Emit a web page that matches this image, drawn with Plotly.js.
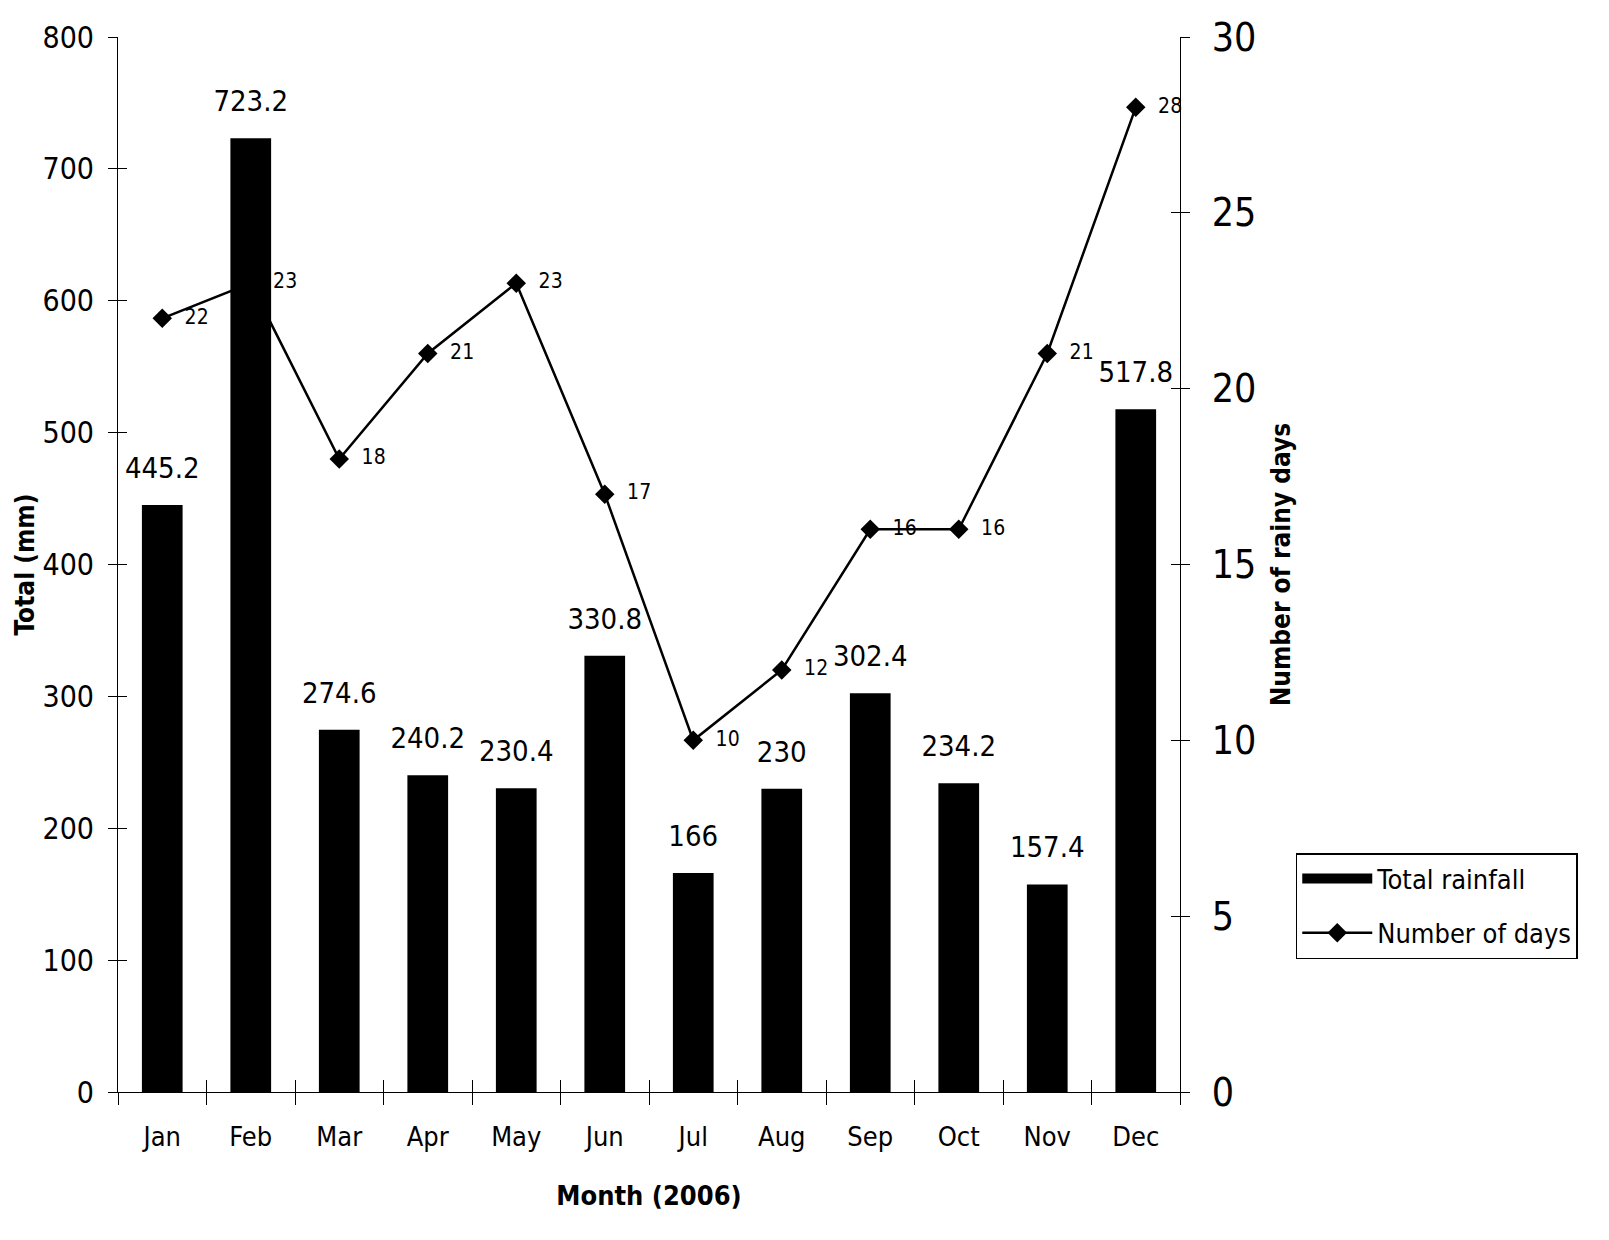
<!DOCTYPE html>
<html>
<head>
<meta charset="utf-8">
<script src="https://cdn.plot.ly/plotly-3.0.1.min.js"></script>
<style>
  html, body { margin: 0; padding: 0; background: #fff; }
  #chart { width: 1609px; height: 1240px; }
</style>
</head>
<body>
<div id="chart"></div>
<script>
// Monthly rainfall and rainy days, 2006
var months = ['Jan', 'Feb', 'Mar', 'Apr', 'May', 'Jun', 'Jul', 'Aug', 'Sep', 'Oct', 'Nov', 'Dec'];
var rainfall = [445.2, 723.2, 274.6, 240.2, 230.4, 330.8, 166, 230, 302.4, 234.2, 157.4, 517.8];
var rainyDays = [22, 23, 18, 21, 23, 17, 10, 12, 16, 16, 21, 28];

var FONT = '"Liberation Sans Narrow", "DejaVu Sans Condensed", "Roboto Condensed", "Liberation Sans", Arial, sans-serif';

// category boundaries for the crossing ticks
var idx = months.map(function(m, i) { return i; });
var bounds = idx.map(function(i) { return i - 0.5; }).concat([months.length - 0.5]);

var bars = {
  type: 'bar',
  x: months,
  y: rainfall,
  name: 'Total rainfall',
  marker: { color: '#000' },
  showlegend: false,
  hoverinfo: 'x+y'
};

// legend entry drawn as a wide black block, like the original
var barKey = {
  type: 'scatter',
  mode: 'lines',
  x: months,
  y: months.map(function() { return null; }),
  name: 'Total rainfall',
  legendgroup: 'a',
  line: { color: '#000', width: 19 },
  hoverinfo: 'skip'
};

var barLabels = {
  type: 'scatter',
  mode: 'markers+text',
  x: months,
  y: rainfall,
  text: rainfall.map(String),
  textposition: 'top center',
  textfont: { family: FONT, size: 29, color: '#000' },
  marker: { size: 30, opacity: 0 },
  showlegend: false,
  hoverinfo: 'skip',
  cliponaxis: false
};

var days = {
  type: 'scatter',
  mode: 'lines+markers+text',
  x: months,
  y: rainyDays,
  yaxis: 'y2',
  name: 'Number of days',
  legendgroup: 'b',
  line: { color: '#000', width: 2.5 },
  marker: { symbol: 'diamond', size: 15, color: '#000' },
  text: rainyDays.map(function(d) { return '  ' + d; }),
  textposition: 'middle right',
  textfont: { family: FONT, size: 21, color: '#000' },
  cliponaxis: false
};

// invisible helpers so the inner-tick overlay axes get drawn
var tickHelperL = {
  type: 'scatter', mode: 'markers', x: idx, y: rainfall,
  xaxis: 'x2', yaxis: 'y3',
  marker: { opacity: 0 }, showlegend: false, hoverinfo: 'skip'
};
var tickHelperR = {
  type: 'scatter', mode: 'markers', x: idx, y: rainyDays,
  xaxis: 'x2', yaxis: 'y4',
  marker: { opacity: 0 }, showlegend: false, hoverinfo: 'skip'
};

var layout = {
  width: 1609,
  height: 1240,
  margin: { l: 118, r: 429, t: 37, b: 148 },
  paper_bgcolor: '#fff',
  plot_bgcolor: '#fff',
  font: { family: FONT, color: '#000' },
  bargap: 0.54,
  showlegend: true,
  legend: {
    x: 1.109, y: 0.2265, xanchor: 'left', yanchor: 'top',
    bordercolor: '#000', borderwidth: 1.5, bgcolor: '#fff',
    font: { family: FONT, size: 27 },
    itemwidth: 70,
    tracegroupgap: 16,
    traceorder: 'grouped'
  },
  xaxis: {
    type: 'category',
    range: [-0.5, months.length - 0.5],
    tickson: 'boundaries',
    ticks: 'outside', ticklen: 12, tickcolor: '#000',
    showline: true, linecolor: '#000', linewidth: 1,
    showgrid: false, zeroline: false,
    tickfont: { family: FONT, size: 27 },
    ticklabelstandoff: 21,
    title: { text: '<b>Month (2006)</b>', font: { family: FONT, size: 27 }, standoff: 34 },
    automargin: false
  },
  xaxis2: {
    overlaying: 'x', anchor: 'y',
    range: [-0.5, months.length - 0.5],
    tickmode: 'array', tickvals: bounds,
    ticks: 'inside', ticklen: 12, tickcolor: '#000',
    showticklabels: false, showline: false, showgrid: false, zeroline: false
  },
  yaxis: {
    range: [0, 800], dtick: 100,
    ticks: 'outside', ticklen: 9, tickcolor: '#000',
    showline: true, linecolor: '#000', linewidth: 1,
    showgrid: false, zeroline: false,
    tickfont: { family: FONT, size: 30 },
    ticklabelstandoff: 8,
    title: { text: '<b>Total (mm)</b>', font: { family: FONT, size: 26 }, standoff: 0 },
    automargin: false
  },
  yaxis3: {
    overlaying: 'y', anchor: 'x',
    range: [0, 800], dtick: 100,
    ticks: 'inside', ticklen: 9, tickcolor: '#000',
    showticklabels: false, showline: false, showgrid: false, zeroline: false
  },
  yaxis2: {
    overlaying: 'y', side: 'right', anchor: 'x',
    range: [0, 30], dtick: 5,
    ticks: 'outside', ticklen: 9, tickcolor: '#000',
    showline: true, linecolor: '#000', linewidth: 1,
    showgrid: false, zeroline: false,
    tickfont: { family: FONT, size: 39 },
    ticklabelstandoff: 14,
    title: { text: '<b>Number of rainy days</b>', font: { family: FONT, size: 26 }, standoff: 16 },
    automargin: false
  },
  yaxis4: {
    overlaying: 'y', side: 'right', anchor: 'x',
    range: [0, 30], dtick: 5,
    ticks: 'inside', ticklen: 9, tickcolor: '#000',
    showticklabels: false, showline: false, showgrid: false, zeroline: false
  }
};

Plotly.newPlot('chart', [bars, barKey, barLabels, days, tickHelperL, tickHelperR], layout,
  { displayModeBar: false, staticPlot: true });
</script>
</body>
</html>
